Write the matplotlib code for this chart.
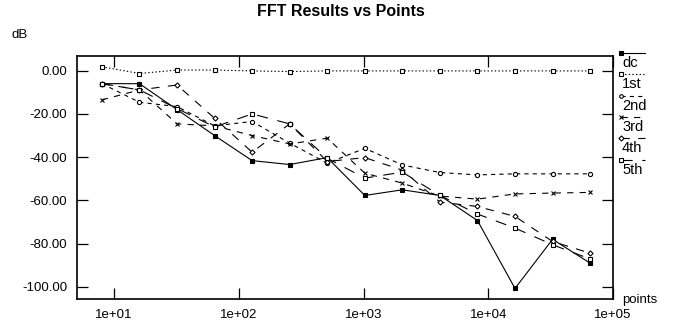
import matplotlib
matplotlib.use("Agg")
import matplotlib.pyplot as plt
from matplotlib.lines import Line2D

plt.rcParams['font.family'] = ['Liberation Sans', 'DejaVu Sans']
plt.rcParams['axes.unicode_minus'] = False
plt.rcParams['lines.scale_dashes'] = False

# number of points used for each FFT
points = [8, 16, 32, 64, 128, 256, 512, 1024, 2048, 4096, 8192, 16384, 32768, 65536]

# dB values
dc = [-6, -6, -18, -30, -41.6, -43.4, -40.2, -57.7, -55.1, -57.7, -69.3, -100.7, -78, -89]
first = [1.8, -1.3, 0.3, 0.3, -0.1, -0.4, -0.1, -0.1, -0.1, -0.1, -0.1, -0.1, -0.1, -0.1]
second = [-6, -14.6, -16.6, -25.5, -23.5, -33.5, -42.8, -35.9, -43.6, -47.1, -48.2, -47.7, -47.7, -47.7]
third = [-13.5, -8.9, -24.6, -25.5, -30, -33.9, -31.2, -47.4, -52, -58, -59.4, -57, -56.6, -56.3]
fourth = [-6, -8.9, -6.6, -22, -37.7, -24.6, -42, -40.2, -46, -60.8, -62.8, -67.4, -79, -84.4]
fifth = [-6, -8.9, -17.5, -26, -20, -24.6, -40.5, -49.7, -46.9, -57.7, -66.3, -72.8, -80.5, -87.1]

labels = ['dc', '1st', '2nd', '3rd', '4th', '5th']
yticks = [0, -20, -40, -60, -80, -100]
xticks = [1e1, 1e2, 1e3, 1e4, 1e5]

W, H = 683, 329
fig = plt.figure(figsize=(W / 100, H / 100), dpi=100)
ax = fig.add_axes([77 / W, 1 - 299 / H, (613 - 77) / W, (299 - 56) / H])

styles = [
    dict(ls='-', marker='s', mfc='black', ms=3),
    dict(ls=(0, (1, 1.6)), marker='s', mfc='white', ms=3),
    dict(ls=(0, (3, 3)), marker='o', mfc='white', ms=3),
    dict(ls=(0, (4.5, 4.5)), marker='x', mfc='white', ms=3),
    dict(ls=(0, (6, 6)), marker='D', mfc='white', ms=2.6),
    dict(ls=(0, (8, 7)), marker='s', mfc='white', ms=3),
]
series = [dc, first, second, third, fourth, fifth]

for vals, st in zip(series, styles):
    ax.plot(points, vals, color='black', lw=0.8, mec='black', mew=0.8, **st)

ax.set_xscale('log')
ax.set_xlim(5.05, 1e5)
ax.set_ylim(-105.6, 6.8)
ax.set_xticks(xticks)
ax.set_xticklabels([f"{v:.0e}" for v in xticks])
ax.minorticks_off()
ax.set_yticks(yticks)
ax.set_yticklabels([f"{v:.2f}" for v in yticks])
ax.tick_params(direction='in', length=8, width=0.9, top=True, right=True,
               labelsize=9.5, pad=7)
for sp in ax.spines.values():
    sp.set_linewidth(1.2)

fig.text(341 / W, 1 - 12 / H, 'FFT Results vs Points', ha='center', va='center',
         fontsize=11.5, fontweight='bold')
fig.text(12 / W, 1 - 35 / H, 'dB', ha='left', va='center', fontsize=9.5)
fig.text(622 / W, 1 - 300 / H, 'points', ha='left', va='center', fontsize=9.5)

# legend drawn by hand to the right of the plot
for i, (lab, st) in enumerate(zip(labels, styles)):
    y = 1 - (53 + 21.3 * i) / H
    fig.add_artist(Line2D([621 / W, 645 / W], [y, y], transform=fig.transFigure,
                          color='black', lw=0.8, ls=st['ls']))
    fig.add_artist(Line2D([621 / W], [y], transform=fig.transFigure, color='black',
                          marker=st['marker'], mfc=st['mfc'], mec='black',
                          ms=2.6, mew=0.8, ls='none'))
    fig.text(622 / W, 1 - (63 + 21.3 * i) / H, lab, ha='left', va='center', fontsize=10.5)

fig.savefig('out.png', dpi=100)
